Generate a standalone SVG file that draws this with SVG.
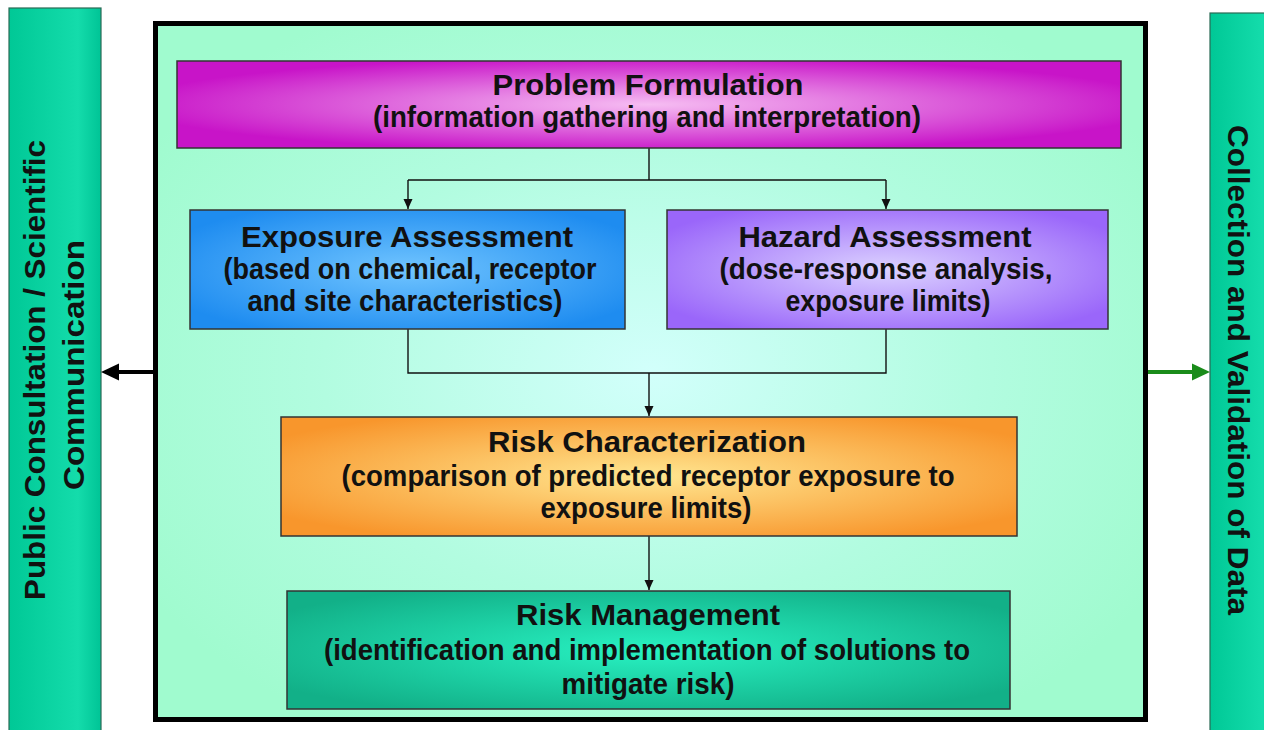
<svg xmlns="http://www.w3.org/2000/svg" width="1264" height="730" viewBox="0 0 1264 730">
  <defs>
    <style>
      .t { font-family: "Liberation Sans", Arial, sans-serif; font-weight: bold; font-size: 29px; fill: #111; text-anchor: middle; }
      .box { stroke: #333; stroke-width: 1.5; }
      .bar { stroke: #2a6a55; stroke-width: 1.2; }
      .conn { fill: none; stroke: #111; stroke-width: 1.4; }
    </style>
    <radialGradient id="gFrame" cx="0.5" cy="0.5" r="0.6">
      <stop offset="0" stop-color="#d2fffb"/>
      <stop offset="0.55" stop-color="#b2fce0"/>
      <stop offset="1" stop-color="#a0fbcf"/>
    </radialGradient>
    <linearGradient id="gBar" x1="0" y1="0" x2="1" y2="0">
      <stop offset="0" stop-color="#00c896"/>
      <stop offset="0.75" stop-color="#14dcab"/>
      <stop offset="1" stop-color="#00c496"/>
    </linearGradient>
    <radialGradient id="gProb" cx="0.5" cy="0.5" r="0.55">
      <stop offset="0" stop-color="#f6bdf2"/>
      <stop offset="1" stop-color="#c814c8"/>
    </radialGradient>
    <radialGradient id="gExp" cx="0.5" cy="0.5" r="0.6">
      <stop offset="0" stop-color="#70c4ff"/>
      <stop offset="1" stop-color="#1e8cf0"/>
    </radialGradient>
    <radialGradient id="gHaz" cx="0.5" cy="0.5" r="0.6">
      <stop offset="0" stop-color="#dcd2ff"/>
      <stop offset="1" stop-color="#9a66fa"/>
    </radialGradient>
    <radialGradient id="gRisk" cx="0.5" cy="0.5" r="0.6">
      <stop offset="0" stop-color="#ffe690"/>
      <stop offset="1" stop-color="#f8962c"/>
    </radialGradient>
    <radialGradient id="gMgmt" cx="0.5" cy="0.5" r="0.6">
      <stop offset="0" stop-color="#28f2c2"/>
      <stop offset="1" stop-color="#12b088"/>
    </radialGradient>
    <marker id="arr" markerUnits="userSpaceOnUse" markerWidth="10" markerHeight="10" refX="10" refY="4.5" orient="auto">
      <path d="M0,0 L10,4.5 L0,9 z" fill="#111"/>
    </marker>
  </defs>

  <rect width="1264" height="730" fill="#ffffff"/>

  <!-- side bars -->
  <g id="public-consultation">
    <rect class="bar" x="9" y="8" width="92" height="740" fill="url(#gBar)"/>
    <g transform="translate(0,370) rotate(-90)">
      <text class="t" x="0" y="45" textLength="460" lengthAdjust="spacingAndGlyphs">Public Consultation / Scientific</text>
      <text class="t" x="5" y="84" textLength="250" lengthAdjust="spacingAndGlyphs">Communication</text>
    </g>
  </g>

  <g id="data-collection">
    <rect class="bar" x="1210" y="13" width="70" height="740" fill="url(#gBar)"/>
    <g transform="translate(1228,370) rotate(90)">
      <text class="t" x="0" y="0" textLength="490" lengthAdjust="spacingAndGlyphs">Collection and Validation of Data</text>
    </g>
  </g>

  <!-- assessment frame -->
  <g id="frame">
    <rect x="155.5" y="23.5" width="990" height="696" fill="url(#gFrame)" stroke="#000" stroke-width="5"/>
  </g>

  <!-- connectors -->
  <g id="connectors">
    <path class="conn" d="M649,148 V180 M408,180 H886"/>
    <path class="conn" d="M408,180 V209" marker-end="url(#arr)"/>
    <path class="conn" d="M886,180 V209" marker-end="url(#arr)"/>
    <path class="conn" d="M408,329 V373 H886 V329"/>
    <path class="conn" d="M649,373 V416" marker-end="url(#arr)"/>
    <path class="conn" d="M649,536 V590" marker-end="url(#arr)"/>
    <!-- outputs to side bars -->
    <line x1="153" y1="372" x2="117" y2="372" stroke="#000" stroke-width="4"/>
    <polygon points="101,372 119,363.5 119,380.5" fill="#000"/>
    <line x1="1148" y1="372" x2="1194" y2="372" stroke="#1a8c1a" stroke-width="4"/>
    <polygon points="1210,372 1192,363.5 1192,380.5" fill="#1a8c1a"/>
  </g>

  <!-- process boxes -->
  <g id="problem-formulation">
    <rect class="box" x="177" y="61" width="944" height="87" fill="url(#gProb)"/>
    <text class="t" x="648" y="95" textLength="311" lengthAdjust="spacingAndGlyphs">Problem Formulation</text>
    <text class="t" x="647" y="127" textLength="548" lengthAdjust="spacingAndGlyphs">(information gathering and interpretation)</text>
  </g>

  <g id="exposure-assessment">
    <rect class="box" x="190" y="210" width="435" height="119" fill="url(#gExp)"/>
    <text class="t" x="407" y="247" textLength="332" lengthAdjust="spacingAndGlyphs">Exposure Assessment</text>
    <text class="t" x="410" y="279" textLength="373" lengthAdjust="spacingAndGlyphs">(based on chemical, receptor</text>
    <text class="t" x="405" y="311" textLength="315" lengthAdjust="spacingAndGlyphs">and site characteristics)</text>
  </g>

  <g id="hazard-assessment">
    <rect class="box" x="667" y="210" width="441" height="119" fill="url(#gHaz)"/>
    <text class="t" x="885" y="247" textLength="293" lengthAdjust="spacingAndGlyphs">Hazard Assessment</text>
    <text class="t" x="886" y="279" textLength="333" lengthAdjust="spacingAndGlyphs">(dose-response analysis,</text>
    <text class="t" x="888" y="311" textLength="205" lengthAdjust="spacingAndGlyphs">exposure limits)</text>
  </g>

  <g id="risk-characterization">
    <rect class="box" x="281" y="417" width="736" height="119" fill="url(#gRisk)"/>
    <text class="t" x="647" y="452" textLength="318" lengthAdjust="spacingAndGlyphs">Risk Characterization</text>
    <text class="t" x="648" y="486" textLength="613" lengthAdjust="spacingAndGlyphs">(comparison of predicted receptor exposure to</text>
    <text class="t" x="646" y="518" textLength="211" lengthAdjust="spacingAndGlyphs">exposure limits)</text>
  </g>

  <g id="risk-management">
    <rect class="box" x="287" y="591" width="723" height="118" fill="url(#gMgmt)"/>
    <text class="t" x="648" y="625" textLength="264" lengthAdjust="spacingAndGlyphs">Risk Management</text>
    <text class="t" x="647" y="660" textLength="646" lengthAdjust="spacingAndGlyphs">(identification and implementation of solutions to</text>
    <text class="t" x="648" y="694" textLength="173" lengthAdjust="spacingAndGlyphs">mitigate risk)</text>
  </g>
</svg>
